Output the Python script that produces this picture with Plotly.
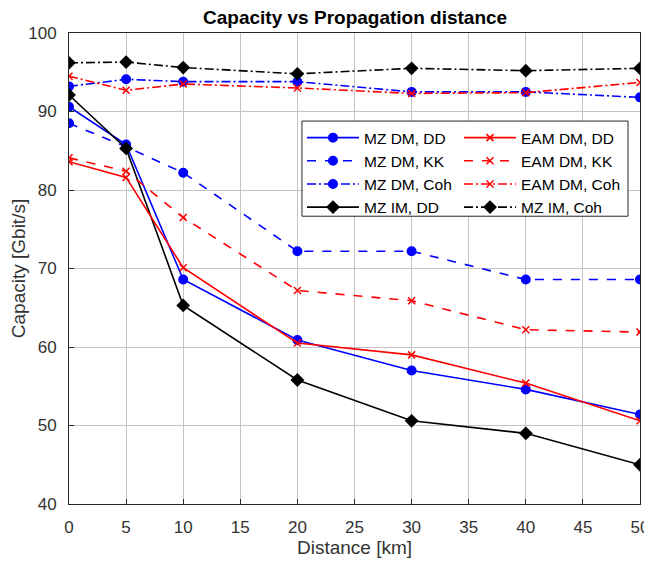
import plotly.graph_objects as go

distance = [0, 5, 10, 20, 30, 40, 50]
mz_dm_dd = [90.6, 85.8, 68.6, 60.9, 57.0, 54.6, 51.4]
mz_dm_kk = [88.5, 85.5, 82.2, 72.2, 72.2, 68.6, 68.6]
mz_dm_coh = [93.2, 94.1, 93.8, 93.8, 92.5, 92.5, 91.8]
eam_dm_dd = [83.6, 81.6, 70.1, 60.5, 59.0, 55.4, 50.6]
eam_dm_kk = [84.1, 82.4, 76.5, 67.2, 65.9, 62.2, 61.9]
eam_dm_coh = [94.5, 92.7, 93.5, 93.0, 92.3, 92.4, 93.7]
mz_im_dd = [92.1, 85.3, 65.3, 55.8, 50.6, 49.0, 45.0]
mz_im_coh = [96.2, 96.3, 95.6, 94.8, 95.5, 95.2, 95.5]

DASHDOT = "9px,3px,2px,3px"
# (name, values, colour, dash, marker, size, legend column)
series = [
    ("MZ DM, DD", mz_dm_dd, "#0000ff", "solid", "circle", 8.5, "legend"),
    ("MZ DM, KK", mz_dm_kk, "#0000ff", "dash", "circle", 8.5, "legend"),
    ("MZ DM, Coh", mz_dm_coh, "#0000ff", DASHDOT, "circle", 8.5, "legend"),
    ("MZ IM, DD", mz_im_dd, "#000000", "solid", "diamond", 9, "legend"),
    ("EAM DM, DD", eam_dm_dd, "#ff0000", "solid", "x-thin-open", 7, "legend2"),
    ("EAM DM, KK", eam_dm_kk, "#ff0000", "dash", "x-thin-open", 7, "legend2"),
    ("EAM DM, Coh", eam_dm_coh, "#ff0000", DASHDOT, "x-thin-open", 7, "legend2"),
    ("MZ IM, Coh", mz_im_coh, "#000000", DASHDOT, "diamond", 9, "legend2"),
]

fig = go.Figure()
for name, vals, color, dash, sym, size, leg in series:
    fig.add_trace(go.Scatter(
        x=distance, y=vals, name=name, mode="lines+markers", legend=leg,
        line=dict(color=color, width=1.6, dash=dash),
        marker=dict(symbol=sym, size=size, color=color,
                    line=dict(color=color, width=1.5)),
    ))

axis_common = dict(
    showgrid=True, gridcolor="#c4c4c4", gridwidth=1,
    showline=True, linecolor="#262626", linewidth=1, mirror=True,
    ticks="inside", ticklen=5, tickcolor="#262626", automargin=False,
    zeroline=False, tickfont=dict(size=17, color="#333333"),
)

leg_common = dict(
    orientation="v", yanchor="top", xanchor="left", y=0.813,
    itemwidth=52, bgcolor="rgba(0,0,0,0)", borderwidth=0,
    font=dict(size=15.5, color="#000000"),
)

# page has an 8px body margin, so the figure is 644x554 placed at (8, 8)
fig.update_layout(
    width=644, height=554,
    margin=dict(l=61, r=12, t=25, b=58),
    paper_bgcolor="white", plot_bgcolor="white",
    font=dict(family="Liberation Sans, Arial, sans-serif", color="#262626"),
    title=dict(text="<b>Capacity vs Propagation distance</b>", x=0.539, xanchor="center",
               y=0.984, yanchor="middle", font=dict(size=19, color="#000000")),
    xaxis=dict(range=[0, 50], tickvals=list(range(0, 51, 5)),
               ticklabelstandoff=8,
               title=dict(text="Distance [km]", font=dict(size=19, color="#333333"), standoff=3),
               **axis_common),
    yaxis=dict(range=[40, 100], tickvals=list(range(40, 101, 10)),
               ticklabelstandoff=8,
               title=dict(text="Capacity [Gbit/s]", font=dict(size=19, color="#333333"), standoff=12),
               **axis_common),
    legend=dict(x=0.408, **leg_common),
    legend2=dict(x=0.683, **leg_common),
    shapes=[dict(type="rect", xref="paper", yref="paper", layer="above",
                 x0=0.408, x1=0.979, y0=0.611, y1=0.813,
                 line=dict(color="#262626", width=1), fillcolor="white")],
    showlegend=True,
)

fig.write_html("out.html")
